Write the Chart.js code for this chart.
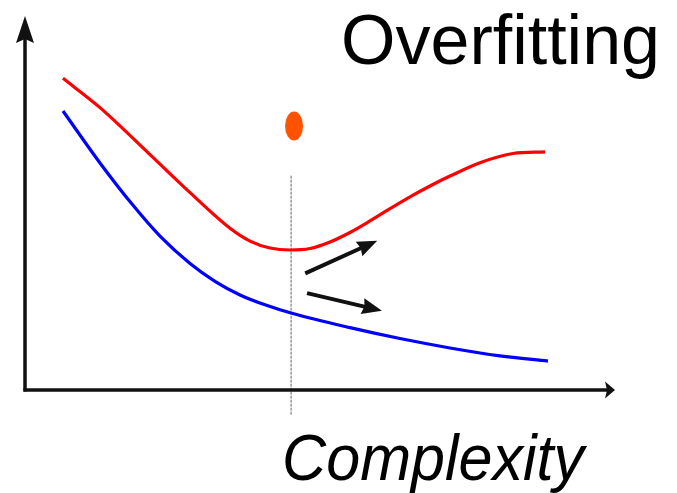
<!DOCTYPE html>
<html>
<head>
<meta charset="utf-8">
<script src="https://cdn.jsdelivr.net/npm/chart.js@4.4.0/dist/chart.umd.min.js"></script>
<style>
  html, body { margin: 0; padding: 0; background: #fff; }
</style>
</head>
<body>
<canvas id="chart" width="677" height="493"></canvas>
<script>
// test error (red) and training error (blue), complexity 0..100, error 0..100
const testX = [6.44, 12.71, 21.19, 27.97, 34.75, 38.14, 41.53, 44.92, 48.31, 51.69, 55.08, 58.47, 61.86, 65.25, 68.64, 72.03, 77.12, 82.71, 88.14];
const testY = [83.33, 75.50, 62.94, 52.78, 43.25, 39.81, 37.96, 37.43, 37.83, 39.58, 42.12, 45.19, 48.47, 51.64, 54.55, 57.20, 60.77, 63.23, 63.65];
const trainX = [6.44, 12.71, 18.31, 22.88, 27.97, 32.20, 36.44, 40.68, 45.25, 55.08, 63.56, 72.03, 80.51, 88.64];
const trainY = [74.60, 60.71, 49.37, 41.14, 33.84, 29.07, 25.42, 22.78, 20.50, 16.67, 13.76, 11.24, 9.13, 7.72];

// best-complexity marker
const markerX = 45.1;
const markerTop = 57.4;
const markerBottom = -6.6;
const dotPoint = { x: 45.6, y: 70.6 };

// arrows: [fromX, fromY, toX, toY]
const axisArrows = [[0, 0, 100, 0], [0, 0, 0, 100]];
const trendArrows = [[47.5, 31.2, 59.7, 39.9], [47.8, 25.9, 60.5, 21.2]];

const titleText = "Overfitting";
const axisText = "Complexity";

// orange ellipse used as the point style
const dotImg = document.createElement("canvas");
dotImg.width = 20;
dotImg.height = 30;
{
  const g = dotImg.getContext("2d");
  g.fillStyle = "#ff5200";
  g.beginPath();
  g.ellipse(10, 15, 9, 14.5, 0, 0, Math.PI * 2);
  g.fill();
}

function drawArrow(ctx, x0, y0, x1, y1, lw, headLen, half, notch) {
  const a = Math.atan2(y1 - y0, x1 - x0);
  const c = Math.cos(a), s = Math.sin(a);
  const bx = x1 - headLen * c, by = y1 - headLen * s;
  ctx.save();
  ctx.strokeStyle = "#111";
  ctx.fillStyle = "#111";
  ctx.lineWidth = lw;
  ctx.beginPath();
  ctx.moveTo(x0, y0);
  ctx.lineTo(bx + (notch + 1) * c, by + (notch + 1) * s);
  ctx.stroke();
  ctx.beginPath();
  ctx.moveTo(x1, y1);
  ctx.lineTo(bx - half * s, by + half * c);
  ctx.lineTo(bx + notch * c, by + notch * s);
  ctx.lineTo(bx + half * s, by - half * c);
  ctx.closePath();
  ctx.fill();
  ctx.restore();
}

const decorations = {
  id: "decorations",
  afterDatasetsDraw(chart) {
    const { ctx, scales: { x, y } } = chart;
    const px = (v) => x.getPixelForValue(v);
    const py = (v) => y.getPixelForValue(v);

    // axes
    const xa = axisArrows[0], ya = axisArrows[1];
    drawArrow(ctx, px(xa[0]) - 1.5, py(xa[1]), px(xa[2]), py(xa[3]), 3.5, 10, 8.5, 2);
    drawArrow(ctx, px(ya[0]), py(ya[1]) + 1.5, px(ya[2]), py(ya[3]), 3.5, 27, 9, 4);

    trendArrows.forEach((t) => {
      drawArrow(ctx, px(t[0]), py(t[1]), px(t[2]), py(t[3]), 4, 20, 8, 2);
    });

    ctx.save();
    ctx.fillStyle = "#000";
    ctx.textBaseline = "alphabetic";
    ctx.textAlign = "left";
    ctx.font = "70px 'Liberation Sans', Arial, sans-serif";
    ctx.fillText(titleText, 341, 64, 329);
    ctx.font = "italic 64px 'Liberation Sans', Arial, sans-serif";
    ctx.fillText(axisText, px(markerX) - 9, 480, 302);
    ctx.restore();
  },
};

const toPoints = (xs, ys) => xs.map((v, i) => ({ x: v, y: ys[i] }));

new Chart(document.getElementById("chart"), {
  type: "line",
  data: {
    datasets: [
      {
        label: "test error",
        data: toPoints(testX, testY),
        borderColor: "#ff0000",
        borderWidth: 3.2,
        pointRadius: 0,
        cubicInterpolationMode: "monotone",
        fill: false,
        clip: false,
      },
      {
        label: "training error",
        data: toPoints(trainX, trainY),
        borderColor: "#0000ff",
        borderWidth: 3.2,
        pointRadius: 0,
        cubicInterpolationMode: "monotone",
        fill: false,
        clip: false,
      },
      {
        label: "marker",
        data: [{ x: markerX, y: markerBottom }, { x: markerX, y: markerTop }],
        borderColor: "#666",
        borderWidth: 1,
        borderDash: [3, 1],
        pointRadius: 0,
        fill: false,
        clip: false,
      },
      {
        label: "dot",
        data: [dotPoint],
        showLine: false,
        pointStyle: dotImg,
        pointRadius: 15,
        clip: false,
      },
    ],
  },
  options: {
    responsive: false,
    animation: false,
    layout: {
      padding: { left: 25, right: 62, top: 12, bottom: 103 },
    },
    scales: {
      x: { type: "linear", min: 0, max: 100, display: false },
      y: { type: "linear", min: 0, max: 100, display: false },
    },
    plugins: {
      legend: { display: false },
      tooltip: { enabled: false },
    },
  },
  plugins: [decorations],
});
</script>
</body>
</html>
